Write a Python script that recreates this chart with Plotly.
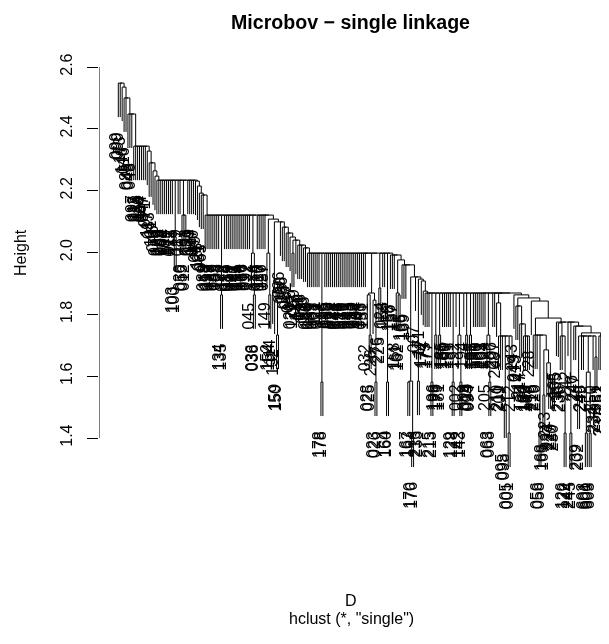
import plotly.graph_objects as go

leaf_labels = """
099 090 173 146 016 085 043 048 097 112
015 088 120 064 047 071 117 083 101 046
073 129 086 004 062 124 109 011 075 103
100 119 087 030 055 012 093 131 079 107
040 049 125 081 065 089 118 052 029 127
069 033 108 134 135 072 113 084 019 077
102 041 115 054 130 066 017 092 122 045
036 038 074 110 037 126 057 149 152 154
114 132 159 150 096 050 136 027 082 067
020 121 059 137 140 018 070 106 031 128
051 139 003 111 021 178 178 116 035 060
133 022 078 141 044 123 010 138 061 042
145 013 080 147 034 104 148 053 151 032
028 025 226 023 026 276 225 024 153 164
160 155 156 157 158 161 162 165 166 169
167 163 170 176 007 216 233 171 172 174
175 177 215 213 196 198 179 181 185 186
189 190 191 129 128 192 002 142 143 194
009 014 039 094 195 197 199 200 201 203
204 205 063 068 206 207 208 210 211 209
095 098 005 001 212 243 049 213 214 217
184 180 182 183 228 218 219 220 056 058
168 169 223 224 227 229 230 105 235 236
238 126 122 242 244 245 246 247 239 202
248 249 602 601 600 603 250 234 232 251
252 253 231 237
""".split()

# merge height between neighbouring leaves, left to right
merge_heights = [
    2.548, 2.548, 2.535, 2.500, 2.500, 2.448, 2.448, 2.448,
    2.344, 2.344, 2.344, 2.344, 2.344, 2.344, 2.344, 2.328, 2.290, 2.290, 2.264, 2.247,
    2.234, 2.234, 2.234, 2.234, 2.234, 2.234, 2.234, 2.234, 2.234, 2.050,
    2.234, 2.234, 2.234, 2.121, 2.121, 2.234, 2.234, 2.234, 2.234, 2.234,
    2.231, 2.215, 2.192, 2.186, 2.186,
    2.121, 2.121, 2.121, 2.121, 2.121, 2.121, 2.121, 2.121, 1.863, 2.121,
    2.121, 2.121, 2.121, 2.121, 2.121, 2.121, 2.121, 2.121, 2.121, 2.121, 2.121, 2.121, 2.121, 2.121,
    1.998, 1.863, 2.121, 2.121, 2.121, 2.121, 2.121, 2.121, 1.998, 1.863, 2.108,
    1.879, 1.846, 1.733, 2.099, 2.099, 2.082, 2.082, 2.063, 2.063, 2.050,
    1.998, 2.040, 2.040, 2.024, 2.024, 2.024, 2.015, 2.015,
    1.998, 1.998, 1.998, 1.998, 1.998, 1.998, 1.998, 1.581, 1.998,
    1.998, 1.998, 1.998, 1.998, 1.998, 1.998, 1.998, 1.998, 1.998, 1.998,
    1.998, 1.998, 1.998, 1.998, 1.998, 1.998, 1.998, 1.998, 1.998, 1.998, 1.998, 1.998,
    1.863, 1.733, 1.869, 1.846, 1.581, 1.998, 1.885, 1.998, 1.998, 1.998, 1.581, 1.998,
    1.992, 1.992, 1.992, 1.869, 1.863, 1.976,
    1.960, 1.960, 1.960, 1.581, 1.584, 1.416, 1.921, 1.921, 1.584, 1.914, 1.908, 1.875,
    1.869, 1.869, 1.869, 1.581, 1.869,
    1.733, 1.869, 1.733, 1.869, 1.869, 1.869, 1.869, 1.869, 1.869, 1.581, 1.869,
    1.869, 1.733, 1.581, 1.869, 1.869, 1.733, 1.869, 1.733, 1.869,
    1.869, 1.869, 1.869, 1.869, 1.869, 1.869, 1.869, 1.733, 1.581, 1.869, 1.869, 1.869,
    1.837, 1.730, 1.730, 1.730, 1.510, 1.730, 1.416, 1.730, 1.869,
    1.863, 1.827, 1.827, 1.769, 1.769, 1.730, 1.730, 1.730, 1.853, 1.843,
    1.733, 1.733, 1.733, 1.416, 1.733, 1.539, 1.685, 1.643, 1.604, 1.604, 1.604, 1.788,
    1.775, 1.772, 1.730, 1.730, 1.416, 1.775, 1.775, 1.416, 1.775, 1.762, 1.762,
    1.539, 1.730, 1.730, 1.730, 1.416, 1.613, 1.416, 1.730, 1.730, 1.662, 1.740,
    1.730, 1.730, 1.730, 1.652,
]

leaf_hang = 0.11
y_tick_values = [1.4, 1.6, 1.8, 2.0, 2.2, 2.4, 2.6]
y_tick_labels = ["1.4", "1.6", "1.8", "2.0", "2.2", "2.4", "2.6"]
title_text = "<b>Microbov \u2212 single linkage</b>"
x_title_text = "D"
sub_title_text = 'hclust (*, "single")'
y_title_text = "Height"

FONT = "Liberation Sans, Arial, Helvetica, sans-serif"
OFF = 8                    # the page's body margin
W, H = 609 - OFF, 644 - OFF
PX0, DX = 118.3 - OFF, 1.93      # pixel of first leaf, pixels per leaf
PY26, PYU = 67.0 - OFF, 309.17   # pixel of y=2.6, pixels per unit
AXIS_PX = 99.0 - OFF

xs, ys = [], []
leaf_ends = {}


def build(lo, hi):
    """Return (x, height) of the node over leaves lo..hi; height None for a leaf."""
    if lo == hi:
        return float(lo), None
    gaps = merge_heights[lo:hi]
    top = max(gaps)
    k = lo + gaps.index(top)
    xl, hl = build(lo, k)
    xr, hr = build(k + 1, hi)
    bl = top - leaf_hang if hl is None else hl
    br = top - leaf_hang if hr is None else hr
    if hl is None:
        leaf_ends[lo] = bl
    if hr is None:
        leaf_ends[hi] = br
    xs.extend([xl, xl, xr, xr, None])
    ys.extend([bl, top, top, br, None])
    return (xl + xr) / 2, top


build(0, len(leaf_labels) - 1)

fig = go.Figure()
fig.add_trace(go.Scatter(x=xs, y=ys, mode="lines", hoverinfo="skip",
                         line=dict(color="black", width=1), showlegend=False))

annos = []
n_leaves = len(leaf_labels)
for i, lab in enumerate(leaf_labels):
    # the last two labels are nudged in so they stay inside the window
    shift = -2.5
    if i == n_leaves - 2:
        shift = -5.2
    if i == n_leaves - 1:
        shift = -6.6
    annos.append(dict(x=i, y=leaf_ends[i], text=lab, textangle=-90, showarrow=False,
                      xanchor="center", yanchor="top", xshift=shift, yshift=-14,
                      font=dict(family=FONT, size=16, color="black"), borderpad=0))


def paper_x(px):
    return (px - OFF) / W


def paper_y(py):
    return 1 - (py - OFF) / H


annos.append(dict(xref="paper", yref="paper", x=paper_x(350.5), y=paper_y(22), text=title_text,
                  showarrow=False, xanchor="center", yanchor="middle",
                  font=dict(family=FONT, size=19.6, color="black")))
annos.append(dict(xref="paper", yref="paper", x=paper_x(351), y=paper_y(600), text=x_title_text,
                  showarrow=False, xanchor="center", yanchor="middle",
                  font=dict(family=FONT, size=16, color="black")))
annos.append(dict(xref="paper", yref="paper", x=paper_x(351), y=paper_y(618), text=sub_title_text,
                  showarrow=False, xanchor="center", yanchor="middle",
                  font=dict(family=FONT, size=16, color="black")))
annos.append(dict(xref="paper", yref="paper", x=paper_x(20), y=paper_y(253), text=y_title_text,
                  textangle=-90, showarrow=False, xanchor="center", yanchor="middle",
                  font=dict(family=FONT, size=16, color="black")))

fig.update_layout(
    width=W, height=H, autosize=False,
    margin=dict(l=0, r=0, t=0, b=0, pad=0),
    paper_bgcolor="rgba(0,0,0,0)", plot_bgcolor="rgba(0,0,0,0)",
    font=dict(family=FONT, color="black"),
    annotations=annos,
    xaxis=dict(domain=[AXIS_PX / W, 1], visible=False,
               range=[(AXIS_PX - PX0) / DX, (W - PX0) / DX], fixedrange=True),
    yaxis=dict(domain=[0, 1], range=[2.6 - (H - PY26) / PYU, 2.6 + PY26 / PYU],
               tickmode="array", tickvals=y_tick_values, ticktext=y_tick_labels,
               ticks="outside", ticklen=11, tickwidth=1, tickcolor="black",
               tickangle=-90, tickfont=dict(family=FONT, size=16, color="black"),
               showgrid=False, zeroline=False, showline=False, ticklabelstandoff=9,
               fixedrange=True),
    shapes=[dict(type="line", xref="x", yref="y",
                 x0=(AXIS_PX - PX0) / DX, x1=(AXIS_PX - PX0) / DX,
                 y0=y_tick_values[0], y1=y_tick_values[-1],
                 line=dict(color="black", width=1))],
)
fig.write_html("out.html", post_script=(
    "document.querySelectorAll('.main-svg').forEach(function(s){"
    "s.style.willChange='transform';});"
))
